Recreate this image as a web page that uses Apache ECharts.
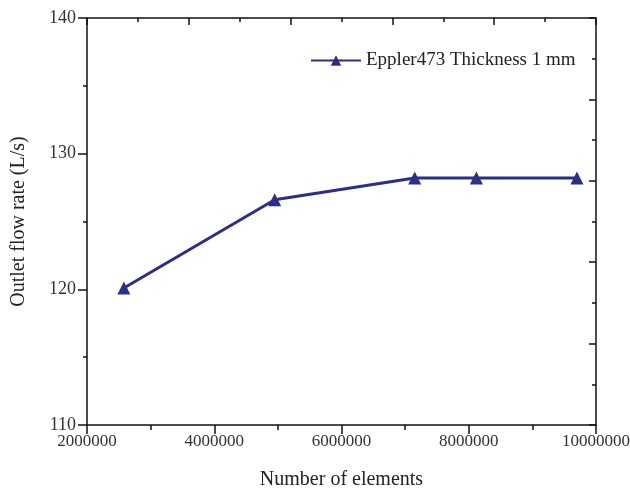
<!DOCTYPE html>
<html><head><meta charset="utf-8">
<script src="https://cdn.jsdelivr.net/npm/echarts@6/dist/echarts.min.js"></script>
<style>html,body{margin:0;padding:0;background:#fff}#c{width:630px;height:490px}</style>
</head><body><div id="c"></div>
<script>
const elements = [2580000, 4950000, 7150000, 8120000, 9700000];
const flowRate = [120.1, 126.6, 128.2, 128.2, 128.2];
const seriesName = 'Eppler473 Thickness 1 mm';
const xTitle = 'Number of elements';
const yTitle = 'Outlet flow rate (L/s)';

const font = 'Liberation Serif';
const navy = '#2b2f86';
const axisLine = {show: true, lineStyle: {color: '#111', width: 1.5}};

const chart = echarts.init(document.getElementById('c'));
chart.setOption({
  animation: false,
  backgroundColor: '#fff',
  grid: {left: 87, right: 34, top: 18, bottom: 65, containLabel: false, outerBoundsMode: 'none'},
  legend: {
    data: [seriesName],
    left: 305, top: 46,
    itemWidth: 50, itemHeight: 13, itemGap: 8,
    textStyle: {fontFamily: font, fontSize: 19, color: '#222'}
  },
  xAxis: [{
    type: 'value', min: 2000000, max: 10000000, interval: 2000000,
    name: xTitle, nameLocation: 'middle', nameGap: 45,
    nameTextStyle: {fontFamily: font, fontSize: 20, color: '#222'},
    axisLine: axisLine,
    axisTick: {show: true, length: 9, lineStyle: {color: '#111', width: 1.5}},
    minorTick: {show: true, splitNumber: 2, length: 5, lineStyle: {color: '#111', width: 1.5}},
    axisLabel: {fontFamily: font, fontSize: 17, color: '#333', margin: 8, formatter: v => String(v)},
    splitLine: {show: false}
  }, {
    type: 'value', position: 'top', min: 0, max: 5, interval: 1,
    axisLine: axisLine,
    axisTick: {show: true, inside: true, length: 7, lineStyle: {color: '#111', width: 1.5}},
    minorTick: {show: true, splitNumber: 2, length: 4, lineStyle: {color: '#111', width: 1.5}},
    axisLabel: {show: false}, splitLine: {show: false}
  }],
  yAxis: [{
    type: 'value', min: 110, max: 140, interval: 10,
    name: yTitle, nameLocation: 'middle', nameGap: 58,
    nameTextStyle: {fontFamily: font, fontSize: 20, color: '#222'},
    axisLine: axisLine,
    axisTick: {show: true, length: 9, lineStyle: {color: '#111', width: 1.5}},
    minorTick: {show: true, splitNumber: 2, length: 4, lineStyle: {color: '#111', width: 1.5}},
    axisLabel: {fontFamily: font, fontSize: 18, color: '#333', margin: 11},
    splitLine: {show: false}
  }, {
    type: 'value', position: 'right', min: 0, max: 5, interval: 1,
    axisLine: axisLine,
    axisTick: {show: true, inside: true, length: 7, lineStyle: {color: '#111', width: 1.5}},
    minorTick: {show: true, splitNumber: 2, length: 4, lineStyle: {color: '#111', width: 1.5}},
    axisLabel: {show: false}, splitLine: {show: false}
  }],
  series: [{
    name: seriesName, type: 'line', xAxisIndex: 0, yAxisIndex: 0,
    data: elements.map((x, i) => [x, flowRate[i]]),
    symbol: 'triangle', symbolSize: 13,
    itemStyle: {color: navy},
    lineStyle: {color: navy, width: 3}
  }]
});
</script></body></html>
